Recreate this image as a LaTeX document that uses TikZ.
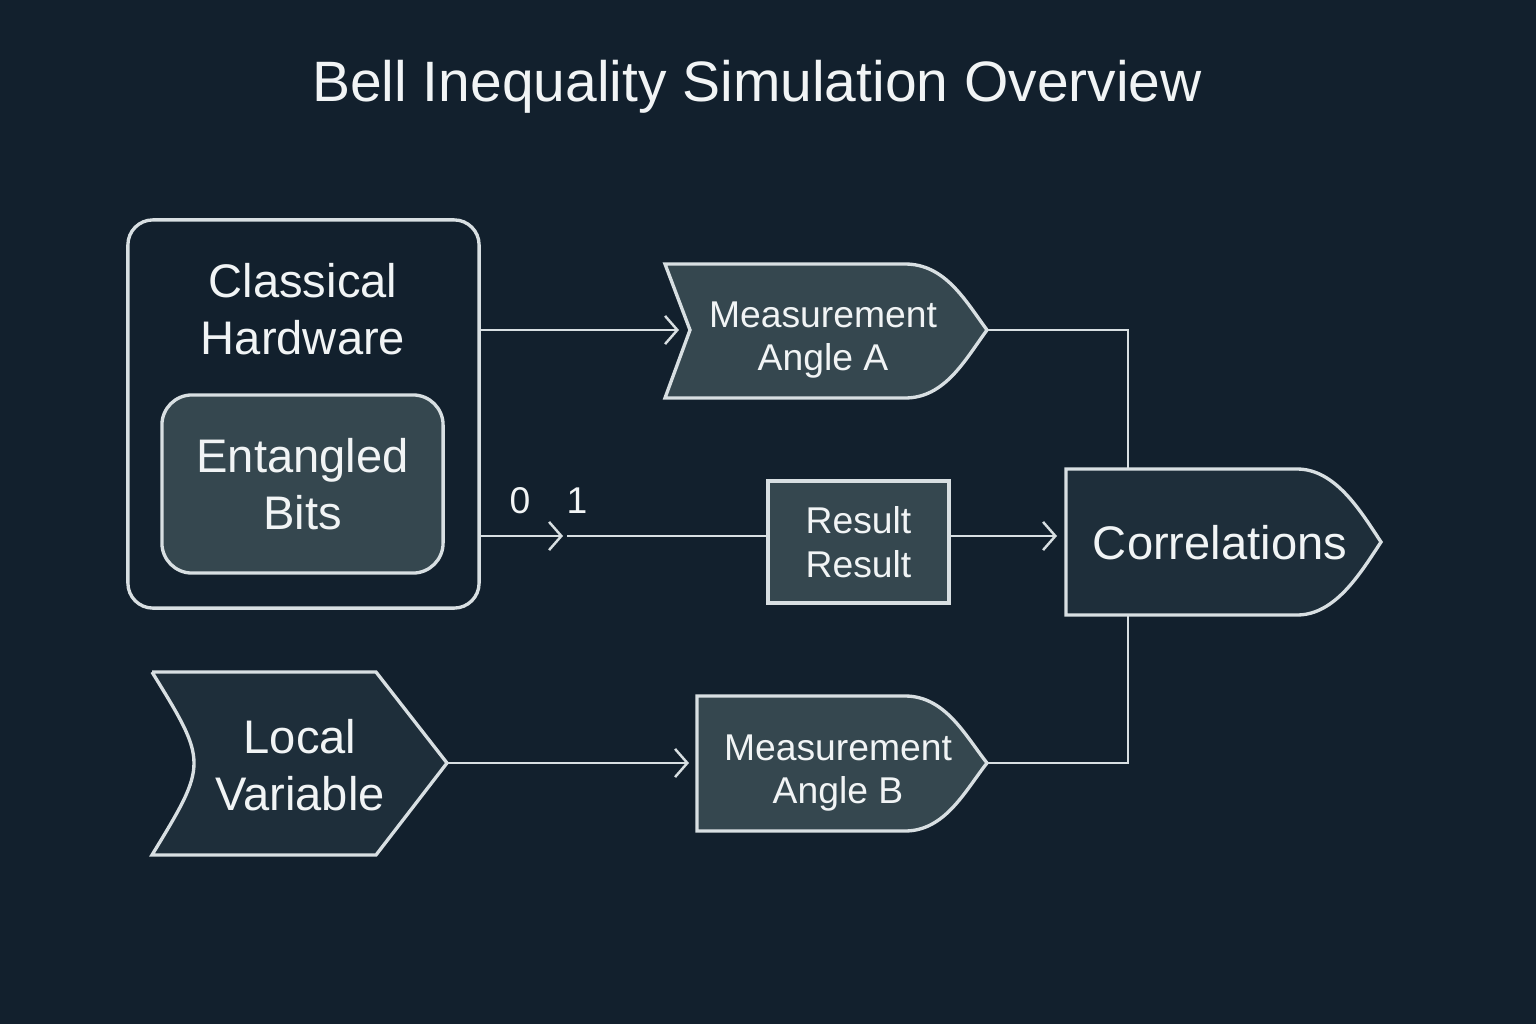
\documentclass[tikz,border=0pt]{standalone}
\usepackage{fontspec}
\setmainfont{Liberation Sans}
\usetikzlibrary{calc,positioning,arrows.meta}
\definecolor{bg}{HTML}{12202D}
\definecolor{edge}{HTML}{D8DFE2}
\definecolor{ink}{HTML}{F1F4F5}
\definecolor{slate}{HTML}{35474F}
\definecolor{deep}{HTML}{1E2E3A}

\begin{document}
\begin{tikzpicture}[
		x=0.01cm, y=-0.01cm,
		outline/.style={draw=edge, line width=0.95pt},
		link/.style={draw=edge, line width=0.7pt},
		flow/.style={link, -{Straight Barb[length=3.5pt,width=8pt]}},
		txt/.style={text=ink, align=center, inner sep=0pt},
		big/.style={txt, font=\fontsize{13.4}{16.2}\selectfont},
		small/.style={txt, font=\fontsize{10.6}{12.4}\selectfont}]
		\fill[bg] (0,0) rectangle (1536,1024);
		\node[txt, font=\fontsize{16.2}{19}\selectfont] (title) at (757,87) {Bell Inequality Simulation Overview};
		% left column
		\node[outline, rounded corners=0.25cm, minimum width=3.51cm, minimum height=3.88cm] (hw) at (303.5,414) {};
		\node[big] (hwtxt) at (303,309) {Classical\\Hardware};
		\node[outline, fill=slate, rounded corners=0.3cm, minimum width=2.81cm, minimum height=1.78cm, big] (bits) at (302.5,484) {Entangled\\Bits};
		\draw[outline, fill=deep] (152,672) -- (376,672) -- (447,763) -- (376,855) -- (152,855) .. controls (208,763) .. (152,672);
		\node[big] (lv) at (300,765) {Local\\Variable};
		\coordinate (lvtip) at (447,763);
		% measurement shapes
		\draw[outline, fill=slate] (665,264) -- (905,264) .. controls (945,264) and (965,300) .. (987,330)
			.. controls (965,360) and (945,398) .. (905,398) -- (665,398) -- (690,330) -- cycle;
		\node[small] (mA) at (823,340) {Measurement\\Angle A};
		\coordinate (mAin) at (679,330);
		\coordinate (mAout) at (987,330);
		\draw[outline, fill=slate] (697,696) -- (905,696) .. controls (945,696) and (965,735) .. (987,763)
			.. controls (965,791) and (945,831) .. (905,831) -- (697,831) -- cycle;
		\node[small] (mB) at (838,773) {Measurement\\Angle B};
		\coordinate (mBin) at (689,763);
		\coordinate (mBout) at (987,763);
		% result and correlations
		\node[outline, fill=slate, minimum width=1.81cm, minimum height=1.22cm, small] (res) at (858.5,542) {Result\\Result};
		\draw[outline, fill=deep] (1066,469) -- (1297,469) .. controls (1335,469) and (1360,510) .. (1381,542)
			.. controls (1360,574) and (1335,615) .. (1297,615) -- (1066,615) -- cycle;
		\node[big] (corr) at (1220,543) {Correlations};
		\coordinate (corrtop) at (1128,469);
		\coordinate (corrbot) at (1128,615);
		\coordinate (corrin) at (1057,536);
		% connectors
		\coordinate (gapL) at (563,536);
		\coordinate (gapR) at (567,536);
		\node[small] (zero) at (520,501) {0};
		\node[small] (one) at (577,501) {1};
		\draw[flow] (hw.east |- mAin) -- (mAin);
		\draw[flow] (hw.east |- gapL) -- (gapL);
		\draw[link] (gapR) -- (res.west |- gapR);
		\draw[flow] (res.east |- gapR) -- (corrin);
		\draw[flow] (lvtip) -- (mBin);
		\draw[link] (mAout) -| (corrtop);
		\draw[link] (corrbot) |- (mBout);
\end{tikzpicture}
\end{document}
